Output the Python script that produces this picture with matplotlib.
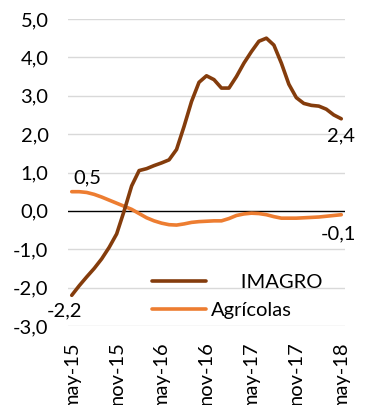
import matplotlib

matplotlib.use("Agg")
import matplotlib.pyplot as plt
import numpy as np

# Monthly year-on-year variation, may-15 .. may-18
imagro = [
    -2.2, -1.95, -1.72, -1.5, -1.25, -0.95, -0.6, 0.0, 0.65, 1.05,
    1.1, 1.18, 1.25, 1.33, 1.6, 2.2, 2.85, 3.35, 3.52, 3.42,
    3.2, 3.2, 3.5, 3.85, 4.15, 4.42, 4.5, 4.32, 3.85, 3.3,
    2.95, 2.8, 2.75, 2.73, 2.65, 2.5, 2.4,
]
agricolas = [
    0.5, 0.5, 0.48, 0.43, 0.36, 0.28, 0.2, 0.12, 0.04, -0.07,
    -0.18, -0.26, -0.32, -0.36, -0.37, -0.34, -0.3, -0.28, -0.27, -0.26,
    -0.26, -0.2, -0.12, -0.08, -0.06, -0.07, -0.1, -0.15, -0.19, -0.19,
    -0.19, -0.18, -0.17, -0.16, -0.14, -0.12, -0.1,
]
tick_labels = ["may-15", "nov-15", "may-16", "nov-16", "may-17", "nov-17", "may-18"]
y_ticks = [-3.0, -2.0, -1.0, 0.0, 1.0, 2.0, 3.0, 4.0, 5.0]

BROWN = "#843C0C"
ORANGE = "#ED7D31"

plt.rcParams["font.family"] = ["Lato", "DejaVu Sans"]
plt.rcParams["font.size"] = 14.5


def fmt(v):
    return f"{v:.1f}".replace(".", ",")


months = np.arange(len(imagro))

fig = plt.figure(figsize=(3.74, 4.05), dpi=100)
ax = fig.add_axes([68 / 374, 79 / 405, 277 / 374, 307 / 405])

for y in y_ticks:
    if y != 0:
        ax.axhline(y, color="#D9D9D9", linewidth=1.0, zorder=0)
ax.axhline(0, color="black", linewidth=1.0, zorder=1)

ax.plot(months, imagro, color=BROWN, linewidth=2.6, label="IMAGRO",
        solid_capstyle="round", zorder=3)
ax.plot(months, agricolas, color=ORANGE, linewidth=2.6, label="Agrícolas",
        solid_capstyle="round", zorder=2)

# end-point value labels
ax.annotate(fmt(imagro[0]), (months[0], imagro[0]), xytext=(-5, -11),
            textcoords="offset points", ha="center", va="center")
ax.annotate(fmt(agricolas[0]), (months[0], agricolas[0]), xytext=(11, 10),
            textcoords="offset points", ha="center", va="center")
ax.annotate(fmt(imagro[-1]), (months[-1], imagro[-1]), xytext=(0, -12),
            textcoords="offset points", ha="center", va="center")
ax.annotate(fmt(agricolas[-1]), (months[-1], agricolas[-1]), xytext=(-2, -14),
            textcoords="offset points", ha="center", va="center")

ax.set_xlim(-0.5, 36.5)
ax.set_ylim(-3, 5)
ax.set_yticks(y_ticks)
ax.set_yticklabels([fmt(v) for v in y_ticks])
ax.set_xticks(months[::6])
ax.set_xticklabels(tick_labels, rotation=90)
ax.tick_params(axis="both", length=0)
ax.tick_params(axis="x", pad=11)
ax.tick_params(axis="y", pad=14)
for side in ax.spines.values():
    side.set_visible(False)

handles, labels = ax.get_legend_handles_labels()
ax.legend(handles, ["      IMAGRO", "Agrícolas"], loc="lower right",
          bbox_to_anchor=(0.986, -0.036), frameon=False, handlelength=2.7,
          handletextpad=0.2, labelspacing=0.55)

fig.savefig("out.png", dpi=100)
